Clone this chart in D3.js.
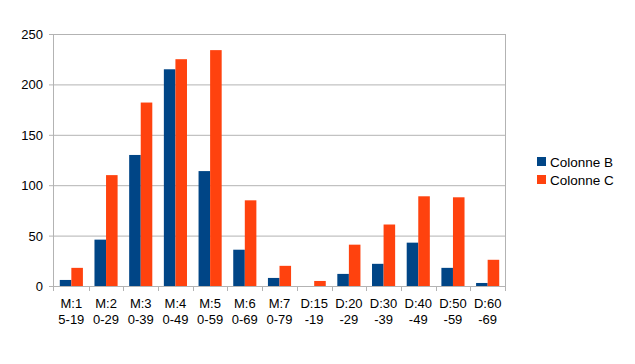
<!DOCTYPE html>
<html><head><meta charset="utf-8">
<script src="https://cdn.jsdelivr.net/npm/d3@7"></script>
<style>body{margin:0;background:#fff}svg{display:block;font-family:"Liberation Sans",Arial,sans-serif}</style>
</head><body><svg id="c" width="635" height="364"></svg>
<script>
const categories = [["M:1","5-19"],["M:2","0-29"],["M:3","0-39"],["M:4","0-49"],["M:5","0-59"],["M:6","0-69"],["M:7","0-79"],["D:15","-19"],["D:20","-29"],["D:30","-39"],["D:40","-49"],["D:50","-59"],["D:60","-69"]];
const seriesNames = ["Colonne B","Colonne C"];
const colonneB = [6,46,130,215,114,36,8,0,12,22,43,18,3];
const colonneC = [18,110,182,225,234,85,20,5,41,61,89,88,26];
const yTicks = [0,50,100,150,200,250];
const colors = ["#004586","#ff420e"];

const svg = d3.select("#c");
const L=54, R=505, T=34, B=286;
const keys = categories.map((d,i)=>i);
const x = d3.scaleBand().domain(keys).range([L,R]).paddingInner(0).paddingOuter(0);
const x1 = d3.scaleBand().domain([0,1]).range([0,x.bandwidth()]).paddingOuter(0.5).paddingInner(0);
const y = d3.scaleLinear().domain([0,250]).range([B,T]);

// grid
svg.append("g").selectAll("line").data(yTicks).join("line")
  .attr("x1",L-5).attr("x2",R).attr("y1",d=>y(d)+0.5).attr("y2",d=>y(d)+0.5)
  .attr("stroke","#b3b3b3").attr("stroke-width",1);
// borders
svg.append("line").attr("x1",R+0.5).attr("x2",R+0.5).attr("y1",T).attr("y2",B+5).attr("stroke","#b3b3b3");
svg.append("line").attr("x1",L-0.5).attr("x2",L-0.5).attr("y1",T).attr("y2",B+5).attr("stroke","#b3b3b3");
// x ticks between categories
svg.append("g").selectAll("line").data(d3.range(1,categories.length)).join("line")
  .attr("x1",d=>Math.round(x(d))+0.5).attr("x2",d=>Math.round(x(d))+0.5).attr("y1",B).attr("y2",B+5).attr("stroke","#b3b3b3");

// y labels
const yAxis = d3.axisLeft(y).tickValues(yTicks).tickSize(0).tickPadding(0);
const ya = svg.append("g").attr("transform",`translate(${L-11},0)`).call(yAxis);
ya.select(".domain").remove();
ya.selectAll("text").attr("font-size",13).attr("fill","#000").attr("font-family","Liberation Sans, Arial, sans-serif").attr("dy","0.35em");

// bars
const data = [colonneB, colonneC];
data.forEach((vals,s)=>{
  svg.append("g").selectAll("rect").data(vals).join("rect")
    .attr("x",(d,i)=>x(i)+x1(s))
    .attr("width",x1.bandwidth())
    .attr("y",d=>y(d))
    .attr("height",d=>B-y(d))
    .attr("fill",colors[s]);
});

// x labels
const xl = svg.append("g");
categories.forEach((c,i)=>{
  const t = xl.append("text").attr("x",x(i)+x.bandwidth()/2).attr("text-anchor","middle").attr("font-size",13).attr("fill","#000");
  t.append("tspan").attr("x",x(i)+x.bandwidth()/2).attr("y",308).text(c[0]);
  t.append("tspan").attr("x",x(i)+x.bandwidth()/2).attr("y",324).text(c[1]);
});

// legend
const lg = svg.append("g");
seriesNames.forEach((n,i)=>{
  lg.append("rect").attr("x",537).attr("y",157+i*18).attr("width",9).attr("height",9).attr("fill",colors[i]);
  lg.append("text").attr("x",550).attr("y",167+i*18).attr("font-size",13.5).attr("fill","#000").text(n);
});
</script></body></html>
